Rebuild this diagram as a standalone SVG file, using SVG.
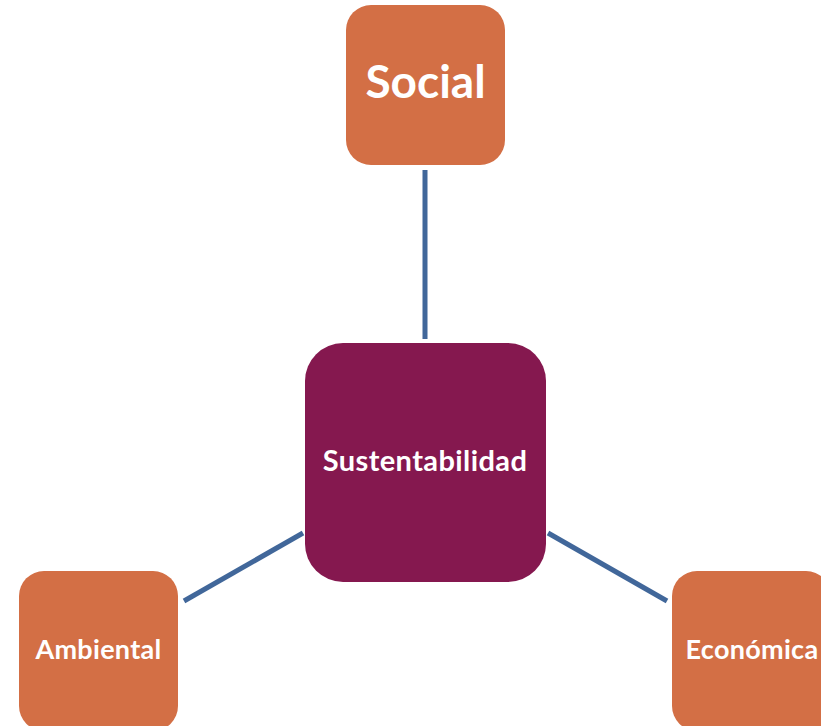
<svg xmlns="http://www.w3.org/2000/svg" width="821" height="726" viewBox="0 0 821 726">
<style>
.leaf{fill:#D36F45;}
.hub{fill:#85184F;}
.conn{stroke:#41679A;stroke-width:5;fill:none;}
text{font-family:Lato,"Open Sans","Liberation Sans",sans-serif;font-weight:bold;fill:#FFFFFF;text-anchor:middle;}
</style>
<rect width="821" height="726" fill="#FFFFFF"/>
<g id="connectors">
<line class="conn" x1="425" y1="170" x2="425" y2="339"/>
<line class="conn" x1="184" y1="601" x2="303" y2="533"/>
<line class="conn" x1="548" y1="533" x2="667" y2="601"/>
</g>
<g id="social">
<rect class="leaf" x="346" y="5" width="159" height="160" rx="25"/>
<text x="425.5" y="98" font-size="46">Social</text>
</g>
<g id="sustentabilidad">
<rect class="hub" x="305" y="343" width="241" height="239" rx="38"/>
<text x="425" y="471" font-size="29" letter-spacing="0.4">Sustentabilidad</text>
</g>
<g id="ambiental">
<rect class="leaf" x="19" y="571" width="159" height="160" rx="25"/>
<text x="98.5" y="659" font-size="27" letter-spacing="0.3">Ambiental</text>
</g>
<g id="economica">
<rect class="leaf" x="672" y="571" width="159" height="160" rx="25"/>
<text x="752" y="659" font-size="27" letter-spacing="0.3">Económica</text>
</g>
</svg>
